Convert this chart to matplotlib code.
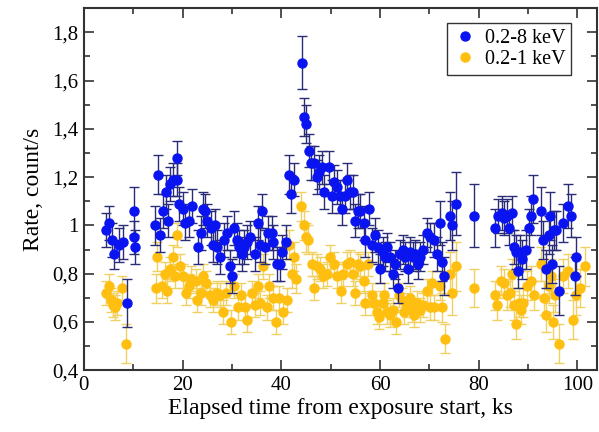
import matplotlib

matplotlib.use("Agg")

import matplotlib.pyplot as plt
from matplotlib.lines import Line2D
from matplotlib.ticker import FuncFormatter, MultipleLocator

# 0.2-8 keV light curve
t_hard = [
    4.5, 5.1, 5.6, 6.2, 7.2, 8.0, 8.7, 10.1, 10.1, 10.3,
    14.4, 15.0, 15.4, 16.0, 16.6, 17.1, 17.4, 18.1, 18.9, 18.8,
    19.3, 20.0, 20.5, 21.2, 22.0, 23.2, 23.7, 24.1, 24.5, 25.0,
    25.7, 26.1, 26.6, 27.0, 27.6, 28.4, 29.1, 29.6, 30.0, 30.4,
    31.0, 31.5, 32.0, 32.5, 33.1, 33.7, 34.7, 35.2, 35.6, 36.0,
    36.7, 37.4, 38.1, 38.4, 39.1, 39.8, 40.1, 41.0, 41.6, 42.0,
    42.6, 44.1, 44.5, 45.0, 45.6, 46.0, 46.7, 47.2, 47.7, 48.2,
    48.7, 49.6, 50.2, 50.7, 51.3, 51.8, 52.3, 52.9, 53.3, 54.0,
    54.5, 55.0, 55.6, 56.0, 56.7, 57.0, 57.7, 58.4, 59.0, 59.5,
    60.0, 60.6, 61.1, 61.5, 62.1, 62.6, 63.1, 63.6, 64.1, 64.6,
    65.1, 65.6, 66.1, 66.7, 67.1, 67.6, 68.2, 68.8, 69.5, 70.2,
    71.0, 71.5, 72.1, 72.6, 73.0, 74.1, 74.6, 75.3, 79.1, 83.2,
    84.0, 84.7, 85.2, 85.7, 86.1, 86.7, 87.1, 87.6, 87.9, 88.4,
    88.8, 89.5, 90.1, 90.5, 91.0, 92.6, 93.0, 93.7, 94.2, 94.5,
    94.9, 95.3, 95.7, 96.2, 97.1, 98.0, 98.7, 99.6, 99.8,
]
rate_hard = [
    0.98, 1.01, 0.94, 0.88, 0.92, 0.93, 0.68, 1.06, 0.95, 0.91,
    1.00, 1.21, 0.96, 1.06, 1.14, 1.02, 1.17, 1.19, 1.28, 1.19,
    1.09, 1.07, 1.01, 1.02, 1.08, 0.91, 0.97, 1.07, 1.06, 1.02,
    0.99, 0.92, 1.00, 0.91, 0.87, 0.94, 0.97, 0.83, 0.79, 0.99,
    0.94, 0.91, 0.88, 0.91, 0.93, 0.95, 0.88, 1.01, 0.92, 1.06,
    0.91, 0.97, 0.97, 0.93, 0.84, 0.84, 0.89, 0.93, 1.21, 1.13,
    1.19, 1.675, 1.45, 1.42, 1.31, 1.26, 1.26, 1.20, 1.22, 1.24,
    1.14, 1.24, 1.12, 1.18, 1.16, 1.12, 1.07, 1.12, 1.19, 1.14,
    1.14, 1.02, 1.06, 1.06, 1.01, 0.94, 1.07, 0.92, 0.96, 0.91,
    0.82, 0.89, 0.87, 0.91, 0.87, 0.80, 0.84, 0.74, 0.88, 0.90,
    0.87, 0.82, 0.89, 0.87, 0.88, 0.84, 0.87, 0.90, 0.97, 0.95,
    0.94, 0.88, 1.01, 0.85, 0.79, 1.04, 1.00, 1.09, 1.04, 0.99,
    1.04, 1.05, 1.03, 1.04, 0.99, 1.05, 0.91, 0.89, 0.81, 0.89,
    0.86, 0.90, 0.99, 1.04, 1.11, 1.06, 0.94, 0.82, 0.96, 1.04,
    0.84, 0.98, 0.98, 0.73, 1.01, 1.08, 1.04, 0.79, 0.87,
]
err_hard = [
    0.07, 0.07, 0.07, 0.06, 0.07, 0.07, 0.10, 0.10, 0.07, 0.07,
    0.08, 0.08, 0.07, 0.07, 0.07, 0.07, 0.07, 0.07, 0.07, 0.07,
    0.07, 0.07, 0.07, 0.07, 0.07, 0.07, 0.07, 0.07, 0.07, 0.07,
    0.07, 0.07, 0.07, 0.07, 0.07, 0.07, 0.07, 0.07, 0.07, 0.07,
    0.07, 0.07, 0.07, 0.07, 0.07, 0.07, 0.07, 0.07, 0.07, 0.07,
    0.07, 0.07, 0.07, 0.07, 0.07, 0.07, 0.07, 0.07, 0.08, 0.08,
    0.07, 0.11, 0.08, 0.08, 0.07, 0.07, 0.07, 0.07, 0.07, 0.07,
    0.07, 0.07, 0.07, 0.07, 0.07, 0.07, 0.07, 0.07, 0.07, 0.07,
    0.07, 0.07, 0.07, 0.07, 0.07, 0.07, 0.07, 0.07, 0.07, 0.07,
    0.06, 0.06, 0.06, 0.06, 0.06, 0.06, 0.06, 0.06, 0.06, 0.06,
    0.06, 0.06, 0.06, 0.06, 0.06, 0.06, 0.06, 0.06, 0.06, 0.06,
    0.07, 0.07, 0.09, 0.08, 0.08, 0.10, 0.10, 0.13, 0.13, 0.08,
    0.07, 0.07, 0.07, 0.07, 0.07, 0.07, 0.07, 0.07, 0.07, 0.07,
    0.08, 0.08, 0.08, 0.08, 0.10, 0.10, 0.08, 0.08, 0.08, 0.10,
    0.08, 0.08, 0.08, 0.10, 0.08, 0.09, 0.09, 0.08, 0.08,
]

# 0.2-1 keV light curve
t_soft = [
    4.5, 5.1, 5.4, 5.9, 6.3, 6.8, 7.8, 8.5, 14.6, 14.9,
    15.8, 16.4, 16.9, 17.4, 18.1, 18.5, 18.9, 19.5, 20.0, 20.7,
    21.2, 21.8, 22.7, 23.0, 23.7, 24.2, 24.7, 25.6, 26.2, 26.9,
    27.6, 28.1, 28.8, 29.8, 30.4, 31.3, 31.8, 32.7, 33.1, 34.0,
    34.7, 35.2, 35.7, 36.2, 37.1, 37.6, 38.3, 38.9, 39.6, 40.3,
    41.1, 41.6, 42.1, 42.6, 43.0, 44.0, 44.5, 45.0, 45.5, 46.2,
    46.7, 47.3, 47.9, 48.5, 49.2, 49.9, 50.6, 51.3, 52.1, 52.6,
    53.3, 54.0, 54.5, 55.0, 55.6, 56.0, 56.7, 57.0, 57.5, 58.4,
    58.8, 59.3, 59.8, 60.6, 60.8, 61.4, 62.1, 62.7, 63.3, 63.9,
    64.4, 64.9, 65.5, 66.0, 66.5, 66.9, 67.5, 68.2, 68.8, 69.5,
    70.2, 70.5, 71.0, 72.2, 72.6, 73.2, 74.1, 74.6, 75.3, 79.1,
    83.2, 83.6, 84.5, 85.2, 85.7, 86.3, 86.7, 87.1, 87.6, 88.1,
    88.6, 89.0, 89.7, 90.5, 91.1, 92.6, 93.2, 93.7, 94.2, 94.7,
    95.1, 95.5, 96.2, 97.1, 98.0, 99.1, 99.8, 100.5, 101.6,
]
rate_soft = [
    0.72, 0.75, 0.69, 0.67, 0.66, 0.68, 0.74, 0.51, 0.74, 0.87,
    0.75, 0.80, 0.73, 0.82, 0.87, 0.79, 0.96, 0.83, 0.79, 0.72,
    0.75, 0.78, 0.77, 0.69, 0.72, 0.79, 0.76, 0.71, 0.69, 0.72,
    0.71, 0.64, 0.72, 0.60, 0.75, 0.66, 0.71, 0.66, 0.61, 0.72,
    0.67, 0.75, 0.68, 0.83, 0.66, 0.75, 0.70, 0.60, 0.70, 0.64,
    0.69, 0.92, 0.80, 0.87, 0.78, 1.08, 1.00, 0.95, 0.94, 0.84,
    0.74, 0.83, 0.82, 0.79, 0.80, 0.87, 0.84, 0.79, 0.73, 0.80,
    0.84, 0.85, 0.80, 0.72, 0.84, 0.83, 0.77, 0.68, 0.84, 0.71,
    0.68, 0.64, 0.62, 0.68, 0.71, 0.64, 0.63, 0.65, 0.60, 0.71,
    0.69, 0.64, 0.67, 0.70, 0.65, 0.63, 0.68, 0.65, 0.67, 0.73,
    0.66, 0.76, 0.66, 0.75, 0.66, 0.53, 0.80, 0.72, 0.83, 0.74,
    0.71, 0.67, 0.77, 0.76, 0.71, 0.72, 0.80, 0.67, 0.59, 0.68,
    0.65, 0.68, 0.75, 0.77, 0.71, 0.84, 0.70, 0.63, 0.75, 0.79,
    0.60, 0.71, 0.51, 0.79, 0.81, 0.61, 0.71, 0.74, 0.83,
]
err_soft = [
    0.05, 0.05, 0.05, 0.05, 0.05, 0.05, 0.05, 0.08, 0.06, 0.06,
    0.05, 0.05, 0.05, 0.05, 0.05, 0.05, 0.05, 0.05, 0.05, 0.05,
    0.05, 0.05, 0.05, 0.05, 0.05, 0.05, 0.05, 0.05, 0.05, 0.05,
    0.05, 0.05, 0.05, 0.05, 0.05, 0.05, 0.05, 0.05, 0.05, 0.05,
    0.05, 0.05, 0.05, 0.05, 0.05, 0.05, 0.05, 0.05, 0.05, 0.05,
    0.05, 0.06, 0.06, 0.06, 0.06, 0.06, 0.06, 0.06, 0.06, 0.05,
    0.05, 0.05, 0.05, 0.05, 0.05, 0.05, 0.05, 0.05, 0.05, 0.05,
    0.05, 0.05, 0.05, 0.05, 0.05, 0.05, 0.05, 0.05, 0.05, 0.05,
    0.05, 0.05, 0.05, 0.05, 0.05, 0.05, 0.05, 0.05, 0.05, 0.05,
    0.05, 0.05, 0.05, 0.05, 0.05, 0.05, 0.05, 0.05, 0.05, 0.05,
    0.05, 0.05, 0.05, 0.06, 0.06, 0.06, 0.09, 0.09, 0.10, 0.08,
    0.06, 0.06, 0.06, 0.06, 0.06, 0.06, 0.06, 0.06, 0.06, 0.06,
    0.06, 0.06, 0.06, 0.06, 0.06, 0.07, 0.07, 0.07, 0.07, 0.07,
    0.07, 0.07, 0.08, 0.07, 0.07, 0.08, 0.08, 0.08, 0.08,
]

assert len(t_hard) == len(rate_hard) == len(err_hard)
assert len(t_soft) == len(rate_soft) == len(err_soft)

SERIF = ["Liberation Serif", "DejaVu Serif"]
BLUE = "#0a14f0"
BLUE_BAR = "#2a2c78"
GOLD = "#ffbf10"
GOLD_BAR = "#f0d060"


def comma_fmt(v, _pos):
    return ("%g" % round(v, 2)).replace(".", ",")


fig = plt.figure(figsize=(5.99, 4.32), dpi=100)
ax = fig.add_axes([0.140, 0.143, 0.857, 0.838])

ax.errorbar(t_soft, rate_soft, yerr=err_soft, fmt="o", ms=6.5, color=GOLD,
            mec=GOLD, ecolor=GOLD_BAR, elinewidth=1.0, capsize=3.5, capthick=1.0,
            zorder=2)
ax.errorbar(t_hard, rate_hard, yerr=err_hard, fmt="o", ms=6.5, color=BLUE,
            mec=BLUE, ecolor=BLUE_BAR, elinewidth=1.0, capsize=3.5, capthick=1.0,
            zorder=3)

ax.set_xlim(0, 104)
ax.set_ylim(0.4, 1.9)

ax.xaxis.set_major_locator(MultipleLocator(20))
ax.xaxis.set_minor_locator(MultipleLocator(10))
ax.yaxis.set_major_locator(MultipleLocator(0.2))
ax.yaxis.set_minor_locator(MultipleLocator(0.1))
ax.yaxis.set_major_formatter(FuncFormatter(comma_fmt))

ax.tick_params(which="both", direction="in", top=True, right=True,
               width=1.2, color="#333333")
ax.tick_params(which="major", length=7.5, labelsize=15, pad=4)
ax.tick_params(which="minor", length=4.5)
for lab in ax.get_xticklabels() + ax.get_yticklabels():
    lab.set_family(SERIF)

for side in ax.spines.values():
    side.set_linewidth(1.5)
    side.set_color("#333333")

ax.set_xlabel("Elapsed time from exposure start, ks", fontsize=17,
              family=SERIF, labelpad=2)
ax.set_ylabel("Rate, count/s", fontsize=17, family=SERIF, labelpad=6)

handles = [
    Line2D([], [], ls="none", marker="o", ms=6.5, color=BLUE),
    Line2D([], [], ls="none", marker="o", ms=6.5, color=GOLD),
]
leg = ax.legend(handles, ["0.2-8 keV", "0.2-1 keV"], loc="upper left",
                bbox_to_anchor=(0.7076, 0.9586), borderaxespad=0,
                fancybox=False, framealpha=1, edgecolor="#333333",
                handletextpad=0.37, handlelength=1.2, borderpad=0.3,
                labelspacing=0.1, prop={"family": SERIF, "size": 14.5})
leg.get_frame().set_linewidth(1.0)

fig.savefig("out.png", dpi=100)
